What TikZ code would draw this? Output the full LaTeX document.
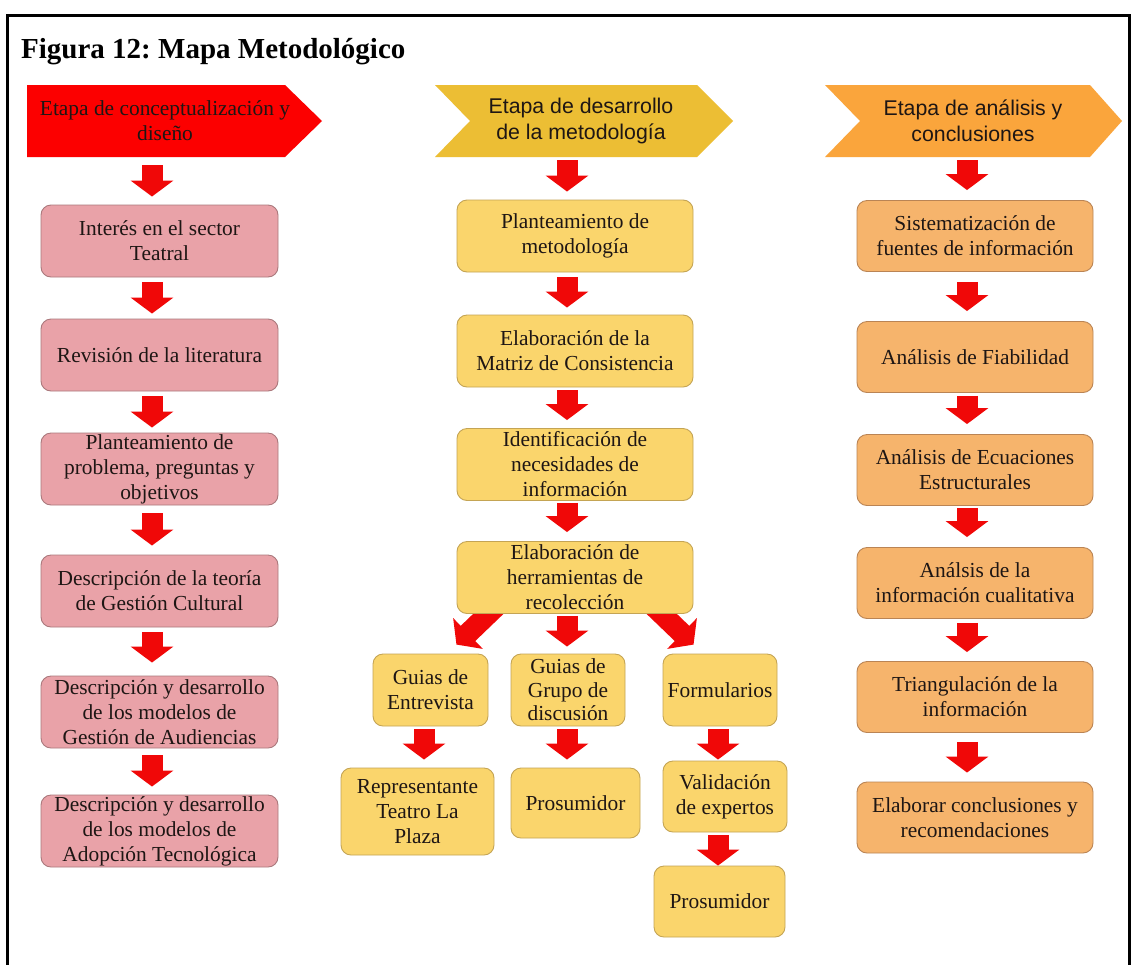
\documentclass[tikz,border=0pt]{standalone}
\usepackage{fontspec}
\setmainfont{Liberation Serif}
\newfontfamily\headsans{Liberation Sans}
\usetikzlibrary{arrows.meta,calc}
\pgfdeclarelayer{background}
\pgfsetlayers{background,main}
\frenchspacing

\definecolor{arrowred}{RGB}{240,8,8}
\definecolor{headred}{RGB}{252,0,0}
\definecolor{headgold}{RGB}{236,190,52}
\definecolor{headorange}{RGB}{250,165,60}
\definecolor{pinkfill}{RGB}{233,162,168}
\definecolor{pinkline}{RGB}{170,120,124}
\definecolor{yellowfill}{RGB}{250,213,108}
\definecolor{yellowline}{RGB}{196,164,84}
\definecolor{orangefill}{RGB}{246,180,108}
\definecolor{orangeline}{RGB}{186,132,84}
\definecolor{ink}{RGB}{30,22,20}

% block arrow from the bottom of #1 to the top of #2, shifted by #3,
% leaving gaps #4 (start) and #5 (end)
\newcommand{\flowarrow}[5]{%
  \draw[blk] ($([xshift=#3]#1.south)+(0,#4)$) -- ($([xshift=#3]#1.south |- #2.north)+(0,-#5)$);}

\begin{document}
\begin{tikzpicture}[x=1pt,y=-1pt,
  txt/.style={font=\fontsize{21.4}{25}\selectfont, text=ink, align=center},
  box/.style={txt, rounded corners=10pt, draw, line width=0.9pt, inner sep=0pt},
  pinkbox/.style={box, fill=pinkfill, draw=pinkline, minimum width=237pt, minimum height=72pt},
  yelbox/.style={box, fill=yellowfill, draw=yellowline},
  midbox/.style={yelbox, minimum width=236pt, minimum height=72pt},
  orbox/.style={box, fill=orangefill, draw=orangeline, minimum width=236pt, minimum height=71pt},
  headtxt/.style={txt, minimum height=72pt, inner sep=0pt},
  blk/.style={draw=arrowred, line width=21pt, -{Triangle[width=42pt,length=16pt]}},
]
\useasboundingbox (0,0) rectangle (1131,964);

% frame and title
\draw[line width=3pt] (7.5,975) -- (7.5,15.5) -- (1129,15.5) -- (1129,975);
\node[anchor=base west, inner sep=0pt, font=\fontsize{29}{30}\selectfont\bfseries] (title) at (21,58) {Figura 12: Mapa Metodológico};

% stage headers
\node[headtxt] (H1) at (165,121) {Etapa de conceptualización y\\diseño};
\node[headtxt, font=\headsans\fontsize{21.3}{26}\selectfont] (H2) at (581,121) {Etapa de desarrollo\\de la metodología};
\node[headtxt, font=\headsans\fontsize{21.3}{26}\selectfont] (H3) at (973,121) {Etapa de análisis y\\conclusiones};

% first column
\node[pinkbox] (L1) at (159.5,241) {Interés en el sector\\Teatral};
\node[pinkbox] (L2) at (159.5,355) {Revisión de la literatura};
\node[pinkbox] (L3) at (159.5,469) {Planteamiento de\\problema, preguntas y\\objetivos};
\node[pinkbox] (L4) at (159.5,591) {Descripción de la teoría\\de Gestión Cultural};
\node[pinkbox] (L5) at (159.5,712) {Descripción y desarrollo\\de los modelos de\\Gestión de Audiencias};
\node[pinkbox] (L6) at (159.5,831) {Descripción y desarrollo\\de los modelos de\\Adopción Tecnológica};

% second column
\node[midbox] (M1) at (575,236) {Planteamiento de\\metodología};
\node[midbox] (M2) at (575,351) {Elaboración de la\\Matriz de Consistencia};
\node[midbox] (M3) at (575,464.5) {Identificación de\\necesidades de\\información};
\node[midbox] (M4) at (575,577.5) {Elaboración de\\herramientas de\\recolección};

\node[yelbox, minimum width=115pt, minimum height=72pt] (G1) at (430.5,690) {Guias de\\Entrevista};
\node[yelbox, minimum width=114pt, minimum height=72pt, font=\fontsize{21.4}{23.5}\selectfont] (G2) at (568,690) {Guias de\\Grupo de\\discusión};
\node[yelbox, minimum width=114pt, minimum height=72pt] (G3) at (720,690) {Formularios};

\node[yelbox, minimum width=153pt, minimum height=87pt] (R1) at (417.5,811.5) {Representante\\Teatro La\\Plaza};
\node[yelbox, minimum width=129pt, minimum height=70pt] (P1) at (575.5,803) {Prosumidor};
\node[yelbox, minimum width=124pt, minimum height=71pt] (V1) at (725,796.5) {Validación\\de expertos};
\node[yelbox, minimum width=131pt, minimum height=71pt] (P2) at (719.5,901.5) {Prosumidor};

% third column
\node[orbox] (O1) at (975,236) {Sistematización de\\fuentes de información};
\node[orbox] (O2) at (975,357) {Análisis de Fiabilidad};
\node[orbox] (O3) at (975,470) {Análisis de Ecuaciones\\Estructurales};
\node[orbox] (O4) at (975,583) {Análsis de la\\información cualitativa};
\node[orbox] (O5) at (975,697) {Triangulación de la\\información};
\node[orbox] (O6) at (975,817.5) {Elaborar conclusiones y\\recomendaciones};

% header bands and the two slanted branches, behind the boxes
\begin{pgfonlayer}{background}
  \fill[white] (0,0) rectangle (1131,964);
  \fill[headred] (27,85) -- (285,85) -- (322,121) -- (285,157) -- (27,157) -- cycle;
  \fill[headgold] (435,85) -- (697,85) -- (733,121) -- (697,157) -- (435,157) -- (470,121) -- cycle;
  \fill[headorange] (825,85) -- (1090,85) -- (1122,121) -- (1090,157) -- (825,157) -- (860,121) -- cycle;
  \draw[blk] ([xshift=40pt,yshift=8pt]M4.south west) -- ([xshift=-32pt,yshift=9pt]G1.north east);
  \draw[blk] ([xshift=-40pt,yshift=8pt]M4.south east) -- ([xshift=31pt,yshift=9pt]G3.north west);
\end{pgfonlayer}

% vertical flow arrows
\flowarrow{H1}{L1}{-13pt}{8}{8}
\flowarrow{L1}{L2}{-7.5pt}{5}{5}
\flowarrow{L2}{L3}{-7.5pt}{5}{5}
\flowarrow{L3}{L4}{-7.5pt}{8}{9}
\flowarrow{L4}{L5}{-7.5pt}{5}{13}
\flowarrow{L5}{L6}{-7.5pt}{7}{8}

\flowarrow{H2}{M1}{-14pt}{3}{8}
\flowarrow{M1}{M2}{-8pt}{5}{7}
\flowarrow{M2}{M3}{-8pt}{3}{8}
\flowarrow{M3}{M4}{-8pt}{2}{9}
\flowarrow{M4}{G2}{-8pt}{2}{7}
\flowarrow{G1}{R1}{-6.5pt}{3}{8}
\flowarrow{G2}{P1}{-1pt}{3}{8}
\flowarrow{G3}{V1}{-2pt}{3}{1}
\flowarrow{V1}{P2}{-7pt}{3}{0}

\flowarrow{H3}{O1}{-6pt}{3}{10}
\flowarrow{O1}{O2}{-8pt}{10}{10}
\flowarrow{O2}{O3}{-8pt}{3}{10}
\flowarrow{O3}{O4}{-8pt}{2}{10}
\flowarrow{O4}{O5}{-8pt}{4}{9}
\flowarrow{O5}{O6}{-8pt}{9}{9}
\end{tikzpicture}
\end{document}
